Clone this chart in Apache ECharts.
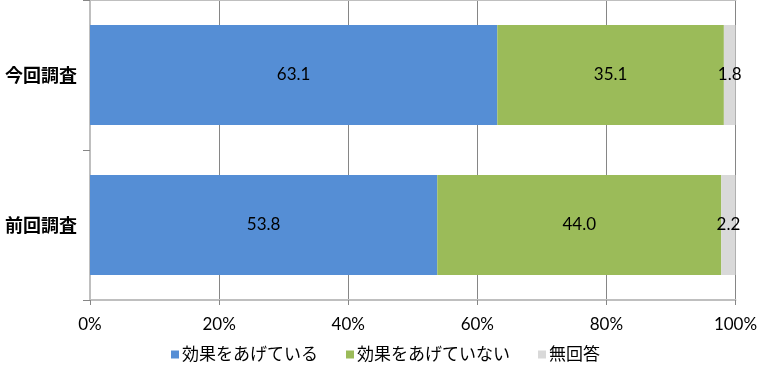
<!DOCTYPE html>
<html>
<head>
<meta charset="utf-8">
<script src="https://cdn.jsdelivr.net/npm/echarts@6/dist/echarts.min.js"></script>
<style>html,body{margin:0;padding:0;background:#fff}#c{width:761px;height:374px}</style>
</head>
<body>
<div id="c"></div>
<script>
const categories = ['今回調査', '前回調査'];
const seriesNames = ['効果をあげている', '効果をあげていない', '無回答'];
const effective = [63.1, 53.8];
const notEffective = [35.1, 44.0];
const noAnswer = [1.8, 2.2];
const xTicks = [0, 20, 40, 60, 80, 100];

const colors = ['#558ED5', '#9BBB59', '#D9D9D9'];
const font = "Lato, 'Noto Sans CJK JP', sans-serif";
const chart = echarts.init(document.getElementById('c'), null, {renderer: 'canvas'});
const values = [effective, notEffective, noAnswer];
chart.setOption({
  animation: false,
  textStyle: {fontFamily: font},
  grid: {left: 90, right: 25.5, top: 0, bottom: 74, containLabel: false},
  legend: {
    left: 166, bottom: 6,
    itemWidth: 8, itemHeight: 8, itemGap: 28,
    icon: 'rect',
    textStyle: {fontSize: 17, color: '#000', fontFamily: font, padding: [0,0,0,-2]},
    data: seriesNames
  },
  xAxis: [{
    type: 'value', min: xTicks[0], max: xTicks[xTicks.length-1], interval: 20,
    axisLine: {show: true, lineStyle: {color: '#BFBFBF', width: 2}},
    axisTick: {show: true, length: 5, lineStyle: {color: '#868686'}},
    splitLine: {show: true, lineStyle: {color: '#868686', width: 1}},
    axisLabel: {formatter: '{value}%', fontSize: 17, color: '#000', margin: 16, fontFamily: font}
  }, {
    type: 'value', position: 'top', min: 0, max: 100,
    axisLine: {show: true, lineStyle: {color: '#BFBFBF', width: 2}},
    axisTick: {show: false}, axisLabel: {show: false}, splitLine: {show: false}
  }],
  yAxis: {
    type: 'category', data: categories, inverse: true,
    axisLine: {show: true, lineStyle: {color: '#BFBFBF', width: 2}},
    axisTick: {show: true, length: 7, interval: 0, lineStyle: {color: '#868686'}},
    axisLabel: {fontSize: 18, fontWeight: 'bold', color: '#000', margin: 13, fontFamily: "'Noto Sans CJK JP', sans-serif"}
  },
  series: seriesNames.map((n, i) => ({
    name: n, type: 'bar', stack: 'total', xAxisIndex: 0,
    barWidth: 100,
    itemStyle: {color: colors[i]},
    label: {show: true, position: 'inside', fontSize: 17, color: '#000', fontFamily: font,
      formatter: p => p.value.toFixed(1)},
    data: values[i]
  }))
});
</script>
</body>
</html>
